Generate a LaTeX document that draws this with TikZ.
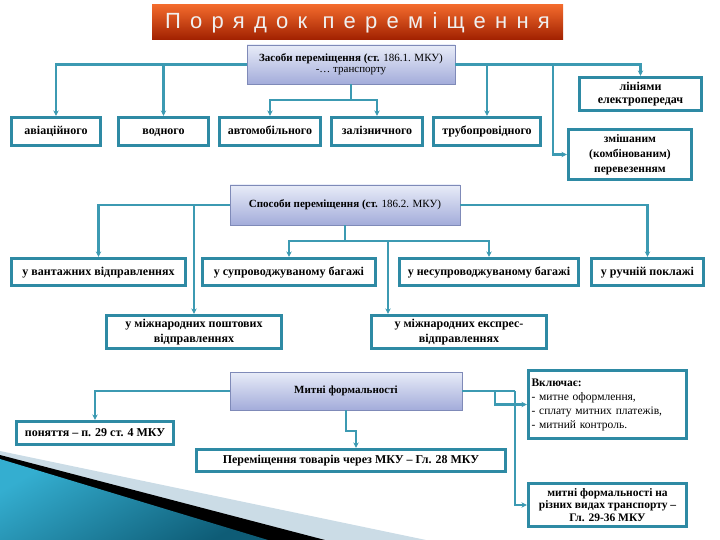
\documentclass[tikz,border=0pt]{standalone}
\usepackage{fontspec}
\setmainfont{Liberation Serif}
\newfontfamily\titlefont[LetterSpace=42]{Liberation Sans}
\usepackage{xcolor}
\usetikzlibrary{arrows.meta,positioning,shadows,calc}
\definecolor{conn}{HTML}{3C9AB2}
\definecolor{boxline}{HTML}{2E8AA4}
\definecolor{headtop}{HTML}{E8ECF8}
\definecolor{headbot}{HTML}{A3ACDA}
\definecolor{headline}{HTML}{7F8AB8}
\definecolor{bantop}{HTML}{F26A2C}
\definecolor{banbot}{HTML}{A02000}
\definecolor{swtop}{HTML}{34AED0}
\definecolor{swbot}{HTML}{0E5C76}
\definecolor{swlight}{HTML}{CBDCE6}

\begin{document}
\begin{tikzpicture}[x=1pt, y=-1pt,
  item/.style={rectangle, draw=boxline, line width=3.2pt, fill=white,
    inner sep=2pt, align=center, font=\bfseries\fontsize{12}{14}\selectfont,
    drop shadow={shadow xshift=1.2pt, shadow yshift=-1.5pt, opacity=0.3}},
  oneline/.style={text height=8.5pt, text depth=2.5pt},
  head/.style={rectangle, draw=headline, line width=0.6pt,
    top color=headtop, bottom color=headbot, align=center,
    font=\fontsize{11}{11.5}\selectfont},
  arrow/.style={-{Stealth[length=5.5pt,width=5.5pt]}},
  link/.style={draw=conn, line width=2.1pt},
]
\useasboundingbox (0,0) rectangle (720,540);

% decoration in the lower left corner
\fill[swlight] (0,451) -- (426,540) -- (0,540) -- cycle;
\fill[black] (0,455) -- (325,540) -- (0,540) -- cycle;
\shade[top color=swtop, bottom color=swbot, shading angle=30] (0,459) -- (268,540) -- (0,540) -- cycle;

% title
\node[rectangle, top color=bantop, bottom color=banbot, minimum width=411pt,
  minimum height=35pt, text=white!88!gray,
  font=\titlefont\fontsize{22}{24}\selectfont] (title) at (357.5,22.5) {Порядок переміщення};

% means of transport
\node[head, minimum width=208pt, minimum height=39pt] (zasoby) at (351,64.5)
  {\textbf{Засоби переміщення (ст.} 186.1. МКУ)\\-… транспорту};
\node[item, oneline, minimum width=89pt, minimum height=28pt] (avia) at (56,131.5) {авіаційного};
\node[item, oneline, minimum width=90pt, minimum height=28pt] (vodn) at (163.5,131.5) {водного};
\node[item, oneline, minimum width=101pt, minimum height=28pt] (avto) at (270,131.5) {автомобільного};
\node[item, oneline, minimum width=91pt, minimum height=28pt] (zaliz) at (377,131.5) {залізничного};
\node[item, oneline, minimum width=107pt, minimum height=28pt] (trub) at (487,131.5) {трубопровідного};
\node[item, minimum width=122pt, minimum height=33pt, font=\bfseries\fontsize{12}{13}\selectfont] (linii) at (640.5,94) {лініями\\електропередач};
\node[item, minimum width=123pt, minimum height=50pt, font=\bfseries\fontsize{11.5}{15}\selectfont] (zmish) at (630,154.5) {змішаним\\(комбінованим)\\перевезенням};

\coordinate (zj) at (553,64.5);
\path (zasoby.south) ++(0,16) coordinate (zb);
\draw[link, arrow] (zasoby.west) -| (avia.north);
\draw[link, arrow] (zasoby.west) -| (vodn.north);
\draw[link, arrow] (zasoby.east) -| (linii.north);
\draw[link, arrow] (zasoby.east) -| (trub.north);
\draw[link, arrow] (zj) |- (zmish.west);
\draw[link] (zasoby.south) -- (zb);
\draw[link, arrow] (zb) -| (avto.north);
\draw[link, arrow] (zb) -| (zaliz.north);

% ways of transfer
\node[head, minimum width=230pt, minimum height=40pt] (sposoby) at (345,205)
  {\textbf{Способи переміщення (ст.} 186.2. МКУ)};
\node[item, oneline, minimum width=174pt, minimum height=27pt] (vant) at (98.5,272) {у вантажних відправленнях};
\node[item, oneline, minimum width=173pt, minimum height=27pt] (supr) at (289,272) {у супроводжуваному багажі};
\node[item, oneline, minimum width=179pt, minimum height=27pt] (nesupr) at (489,272) {у несупроводжуваному багажі};
\node[item, oneline, minimum width=112pt, minimum height=27pt] (ruchn) at (647.5,272) {у ручній поклажі};
\node[item, minimum width=175pt, minimum height=33pt, font=\bfseries\fontsize{12}{15.5}\selectfont] (posht) at (194,332) {у міжнародних поштових\\відправленнях};
\node[item, minimum width=175pt, minimum height=33pt, font=\bfseries\fontsize{12}{15.5}\selectfont] (ekspr) at (459,332) {у міжнародних експрес-\\відправленнях};

\coordinate (sj) at (posht.north |- sposoby.west);
\path (sposoby.south) ++(0,16) coordinate (sb);
\coordinate (ek) at (388,241);
\draw[link, arrow] (sposoby.west) -| (vant.north);
\draw[link, arrow] (sj) -- (posht.north);
\draw[link, arrow] (sposoby.east) -| (ruchn.north);
\draw[link] (sposoby.south) -- (sb);
\draw[link, arrow] (sb) -| (supr.north);
\draw[link, arrow] (sb) -| (nesupr.north);
\draw[link, arrow] (ek) -- (ek |- ekspr.north);

% customs formalities
\node[head, minimum width=232pt, minimum height=38pt, font=\bfseries\fontsize{11}{12}\selectfont] (mytni) at (346,391) {Митні формальності};
\node[item, oneline, minimum width=157pt, minimum height=23pt, inner sep=1pt] (ponyattya) at (95,433) {поняття – п. 29 ст. 4 МКУ};
\node[item, oneline, minimum width=309pt, minimum height=22pt] (perem) at (351,460.5) {Переміщення товарів через МКУ – Гл. 28 МКУ};
\node[item, minimum width=158pt, minimum height=68pt, align=left, text width=152pt,
  font=\fontsize{11.5}{14}\selectfont] (vkl) at (607.5,404.5)
  {\textbf{Включає:}\\- митне оформлення,\\- сплату митних платежів,\\- митний контроль.};
\node[item, minimum width=158pt, minimum height=43pt, font=\bfseries\fontsize{11.5}{12.5}\selectfont] (formvyd) at (607.5,505)
  {митні формальності на\\різних видах транспорту –\\Гл. 29-36 МКУ};

\coordinate (mj) at (515,391);
\coordinate (mk) at (495,391);
\draw[link, arrow] (mytni.west) -| (ponyattya.north);
\draw[link, arrow] (mytni.south) -- ++(0,21) -| ([xshift=5pt]perem.north);
\draw[link] (mytni.east) -- (mj);
\draw[link, arrow] (mj) |- (formvyd.west);
\draw[link, arrow] (mk) |- (vkl.west);
\end{tikzpicture}
\end{document}
